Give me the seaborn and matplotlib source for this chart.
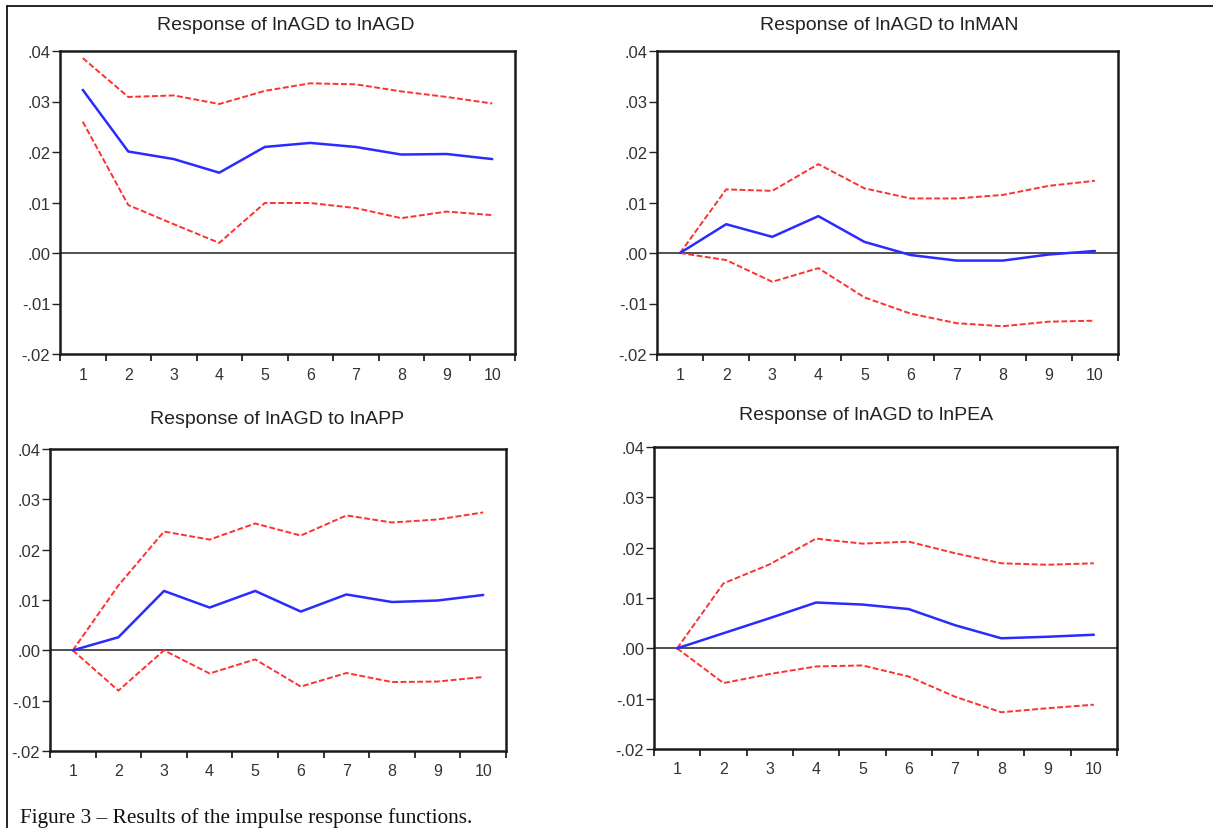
import numpy as np
import pandas as pd
import seaborn as sns
import matplotlib
matplotlib.use("Agg")
import matplotlib.pyplot as plt
from matplotlib.lines import Line2D
from matplotlib.ticker import FixedLocator

# ---------------- data ----------------
periods = [1, 2, 3, 4, 5, 6, 7, 8, 9, 10]
titles = ["Response of lnAGD to lnAGD", "Response of lnAGD to lnMAN",
          "Response of lnAGD to lnAPP", "Response of lnAGD to lnPEA"]

agd_resp  = [0.0323, 0.0201, 0.0186, 0.0159, 0.0210, 0.0218, 0.0210, 0.0195, 0.0196, 0.0186]
agd_upper = [0.0386, 0.0309, 0.0312, 0.0295, 0.0321, 0.0336, 0.0334, 0.0320, 0.0309, 0.0296]
agd_lower = [0.0260, 0.0095, 0.0057, 0.0020, 0.0099, 0.0099, 0.0089, 0.0069, 0.0082, 0.0075]

man_resp  = [0.0, 0.0057, 0.0032, 0.0073, 0.0022, -0.0004, -0.0015, -0.0015, -0.0003, 0.0004]
man_upper = [0.0, 0.0126, 0.0123, 0.0176, 0.0128, 0.0108, 0.0108, 0.0115, 0.0133, 0.0143]
man_lower = [0.0, -0.0014, -0.0057, -0.0030, -0.0088, -0.0120, -0.0139, -0.0145, -0.0136, -0.0134]

app_resp  = [0.0, 0.0026, 0.0118, 0.0085, 0.0118, 0.0077, 0.0111, 0.0096, 0.0099, 0.0110]
app_upper = [0.0, 0.0129, 0.0236, 0.0220, 0.0252, 0.0228, 0.0268, 0.0254, 0.0260, 0.0274]
app_lower = [0.0, -0.0080, 0.0000, -0.0046, -0.0018, -0.0072, -0.0045, -0.0063, -0.0062, -0.0053]

pea_resp  = [0.0, 0.0030, 0.0060, 0.0091, 0.0087, 0.0078, 0.0046, 0.0020, 0.0023, 0.0027]
pea_upper = [0.0, 0.0129, 0.0167, 0.0218, 0.0208, 0.0212, 0.0189, 0.0169, 0.0166, 0.0169]
pea_lower = [0.0, -0.0069, -0.0051, -0.0036, -0.0034, -0.0056, -0.0096, -0.0127, -0.0119, -0.0112]

y_ticks = [-0.02, -0.01, 0.00, 0.01, 0.02, 0.03, 0.04]
y_tick_labels = ["-.02", "-.01", ".00", ".01", ".02", ".03", ".04"]
x_tick_labels = ["1", "2", "3", "4", "5", "6", "7", "8", "9", "10"]
caption = "Figure 3 \u2013 Results of the impulse response functions."

panels = [
    (agd_resp, agd_upper, agd_lower),
    (man_resp, man_upper, man_lower),
    (app_resp, app_upper, app_lower),
    (pea_resp, pea_upper, pea_lower),
]

# ---------------- figure ----------------
sns.set_style("white")
plt.rcParams["font.family"] = ["Liberation Sans", "DejaVu Sans"]

W, H = 1213, 829
fig = plt.figure(figsize=(W / 100, H / 100), dpi=100)

# axes rectangles in pixels: left, top, right, bottom
rects_px = [(60, 52, 515, 355), (657, 52, 1118, 355),
            (50, 450, 506, 752), (654, 448, 1117, 750)]
title_px = [(286, 25), (889, 25), (277, 420), (866, 416)]

for i, ((resp, up, lo), (l, t, r, b)) in enumerate(zip(panels, rects_px)):
    ax = fig.add_axes([l / W, 1 - b / H, (r - l) / W, (b - t) / H])
    df = pd.DataFrame({"period": periods * 3,
                       "value": list(up) + list(lo) + list(resp),
                       "series": ["upper"] * 10 + ["lower"] * 10 + ["response"] * 10})
    ax.axhline(0, color="#222222", lw=1.1, zorder=1)
    for name, color, lw, ls in [("upper", "#ff3030", 1.4, (0, (3, 1.3))),
                                ("lower", "#ff3030", 1.4, (0, (3, 1.3))),
                                ("response", "#2b2bff", 1.8, "-")]:
        sub = df[df["series"] == name]
        sns.lineplot(data=sub, x="period", y="value", ax=ax, color=color,
                     lw=lw, linestyle=ls, legend=False, zorder=3)
    ax.set_xlim(0.5, 10.5)
    ax.set_ylim(-0.02, 0.04)
    ax.set_xlabel("")
    ax.set_ylabel("")
    ax.set_xticks(periods)
    ax.set_xticklabels(x_tick_labels)
    ax.xaxis.set_minor_locator(FixedLocator(np.arange(0.5, 11, 1.0)))
    ax.tick_params(axis="x", which="major", length=0, pad=9, labelsize=11.5, labelcolor="#333333")
    ax.tick_params(axis="x", which="minor", length=5, width=1.3, color="#222222", bottom=True)
    ax.set_yticks(y_ticks)
    ax.set_yticklabels(y_tick_labels)
    ax.tick_params(axis="y", which="major", length=6, width=1.0, color="#222222",
                   pad=1, labelsize=12, labelcolor="#333333", left=True)
    for s in ax.spines.values():
        s.set_visible(True)
        s.set_color("#1a1a1a")
        s.set_linewidth(1.8)
    tx, ty = title_px[i]
    fig.text(tx / W, 1 - ty / H, titles[i], ha="center", va="center",
             fontsize=14, color="#222222")

fig.text(20 / W, 1 - 818 / H, caption, ha="left", va="center", fontsize=15.3,
         family=["Liberation Serif", "DejaVu Serif"], color="#111111")

# outer frame (left and top edges)
fig.add_artist(Line2D([7 / W, 7 / W], [0, 1 - 7 / H], transform=fig.transFigure,
                      color="black", lw=1.2))
fig.add_artist(Line2D([7 / W, 1], [1 - 7 / H, 1 - 7 / H], transform=fig.transFigure,
                      color="black", lw=1.2))

fig.savefig("out.png", dpi=100)
